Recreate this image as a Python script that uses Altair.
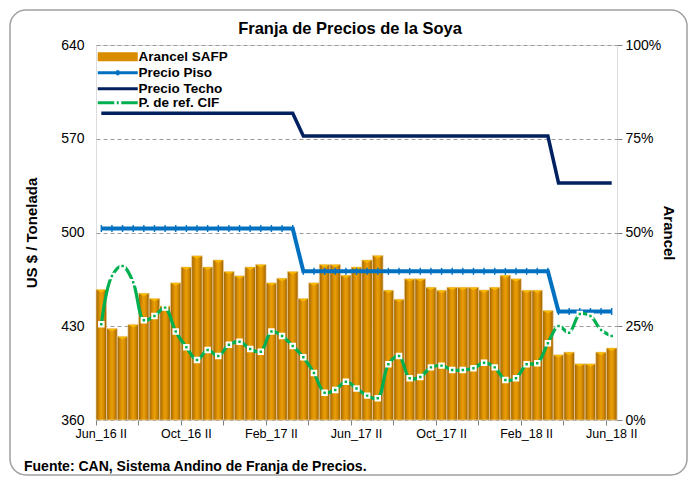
import json
import altair as alt
import pandas as pd

# ---------------- data ----------------
MONTHS = ["Jan", "Feb", "Mar", "Apr", "May", "Jun", "Jul", "Aug", "Sep", "Oct", "Nov", "Dec"]
_all = [f"{m}_{y} {h}" for y in ["16", "17", "18"] for m in MONTHS for h in ["I", "II"]]
CATS = _all[_all.index("Jun_16 II"): _all.index("Jun_18 II") + 1]

ARANCEL = [34.8, 24.4, 22.3, 25.5, 33.8, 32.4, 30.4, 36.6, 40.8, 43.8,
           40.8, 42.7, 39.6, 38.5, 40.8, 41.5, 36.6, 37.8, 39.6, 32.4,
           36.6, 41.5, 41.5, 38.6, 40.8, 42.7, 43.9, 34.6, 32.2, 37.7,
           37.7, 35.4, 34.6, 35.4, 35.4, 35.4, 34.7, 35.4, 38.6, 37.7,
           34.6, 34.6, 29.2, 17.4, 18.1, 15.0, 15.0, 18.1, 19.2]

TECHO = [589, 589, 589, 589, 589, 589, 589, 589, 589, 589,
         589, 589, 589, 589, 589, 589, 589, 589, 589, 572,
         572, 572, 572, 572, 572, 572, 572, 572, 572, 572,
         572, 572, 572, 572, 572, 572, 572, 572, 572, 572,
         572, 572, 572, 537, 537, 537, 537, 537, 537]

PISO = [503, 503, 503, 503, 503, 503, 503, 503, 503, 503,
        503, 503, 503, 503, 503, 503, 503, 503, 503, 471,
        471, 471, 471, 471, 471, 471, 471, 471, 471, 471,
        471, 471, 471, 471, 471, 471, 471, 471, 471, 471,
        471, 471, 471, 441, 441, 441, 441, 441, 441]

CIF = [431.5, 467.5, 475.0, 462.8, 434.5, 437.7, 443.9, 426.0, 414.3, 404.8,
       412.3, 407.8, 416.2, 418.5, 413.0, 411.0, 426.0, 422.7, 415.3, 406.8,
       395.1, 380.4, 382.4, 388.6, 383.6, 378.2, 376.2, 401.6, 407.8, 391.1,
       392.1, 399.3, 400.6, 397.3, 397.3, 398.6, 402.8, 399.3, 389.9, 391.1,
       401.6, 402.3, 417.3, 430.2, 425.2, 439.2, 437.7, 427.2, 422.7]

SERIES = ["Arancel SAFP", "Precio Piso", "Precio Techo", "P. de ref. CIF"]
COLORS = ["#D98C00", "#0070C0", "#002060", "#00B050"]
LEGEND_SHAPES = [
    "M-8,-1.2H8M-8,0H8M-8,1.2H8",
    "M-8,0H8M0,-1V1",
    "M-8,0H8",
    "M-8,0H-1.4M1.4,0H8M-0.4,0H0.4",
]

LEFT_TICKS = [360, 430, 500, 570, 640]
RIGHT_TICKS = [0, 0.25, 0.5, 0.75, 1.0]
TICK_CATS = CATS[::4]
LABEL_CATS = CATS[::8]

TITLE = "Franja de Precios de la Soya"
FOOTER = "Fuente: CAN, Sistema Andino de Franja de Precios."

FONT = "Liberation Sans, Arial, sans-serif"

# ---------------- frames ----------------
bars_df = pd.DataFrame({"cat": CATS, "arancel": [v / 100 for v in ARANCEL]})
lines_df = pd.concat([
    pd.DataFrame({"cat": CATS, "serie": SERIES[1], "valor": PISO}),
    pd.DataFrame({"cat": CATS, "serie": SERIES[2], "valor": TECHO}),
    pd.DataFrame({"cat": CATS, "serie": SERIES[3], "valor": CIF}),
], ignore_index=True)
legend_df = pd.DataFrame({"serie": SERIES})

xaxis = alt.Axis(
    values=TICK_CATS, bandPosition=0,
    labelExpr=f"indexof({json.dumps(LABEL_CATS)}, datum.value) >= 0 ? datum.label : ''",
    labelAngle=0, domain=False, tickColor="#808080", tickSize=5,
    labelPadding=2, labelFontSize=12.5, labelFont=FONT, labelColor="#000",
    title=None,
)
xenc = alt.X("cat:N", sort=CATS, scale=alt.Scale(paddingInner=0, paddingOuter=0), axis=xaxis)

yleft = alt.Y(
    "valor:Q",
    scale=alt.Scale(domain=[360, 640], nice=False, zero=False),
    axis=alt.Axis(
        orient="left", values=LEFT_TICKS, grid=True, gridDash=[4, 3],
        gridColor="#9A9A9A", ticks=False, domain=False, labelPadding=12,
        labelFontSize=14, labelFont=FONT, labelColor="#000",
        title="US $ / Tonelada", titleFontSize=15, titleFont=FONT,
        titleFontWeight="bold", titleColor="#000", titlePadding=21,
    ),
)

color_scale = alt.Scale(domain=SERIES, range=COLORS)
shape_scale = alt.Scale(domain=SERIES, range=LEGEND_SHAPES)


def mk_legend():
    return alt.Legend(
        orient="none", legendX=15, legendY=5, title=None, padding=0,
        symbolSize=25, symbolStrokeWidth=3, labelOffset=14, rowPadding=-2,
        labelFont=FONT, labelFontSize=13.5, labelFontWeight="bold", labelColor="#000",
        symbolFillColor="transparent", symbolOpacity=1,
    )


col = alt.Color("serie:N", scale=color_scale, legend=mk_legend())

# ---------------- bars ----------------
grad = alt.Gradient(
    gradient="linear", x1=0, x2=1, y1=0, y2=0,
    stops=[
        alt.GradientStop(offset=0, color="#9A5F00"),
        alt.GradientStop(offset=0.3, color="#D68C00"),
        alt.GradientStop(offset=0.5, color="#EA9E08"),
        alt.GradientStop(offset=0.7, color="#D68C00"),
        alt.GradientStop(offset=1, color="#9A5F00"),
    ],
)
yright = alt.Y(
    "arancel:Q",
    scale=alt.Scale(domain=[0, 1], nice=False),
    axis=alt.Axis(
        orient="right", values=RIGHT_TICKS, format=".0%", grid=False,
        domain=False, tickColor="#808080", tickSize=5, labelPadding=3,
        labelFontSize=14, labelFont=FONT, labelColor="#000",
        title="Arancel", titleAngle=90, titleFontSize=15, titleFont=FONT,
        titleFontWeight="bold", titleColor="#000", titlePadding=0,
    ),
)
bars = alt.Chart(bars_df).mark_bar(color=grad, stroke="#F0D9A8", strokeWidth=0.7).encode(
    x=xenc, y=yright
)
tops = alt.Chart(bars_df).mark_point(
    shape="M-1,0L1,0L0,0.55Z", filled=True, color="#F7B900", size=100, opacity=1, yOffset=0.3
).encode(x=xenc, y=yright)
bar_layer = alt.layer(bars, tops)

# ---------------- lines ----------------
base = alt.Chart(lines_df)

legend_helper = alt.Chart(legend_df).mark_point(filled=False, opacity=1, strokeWidth=3).encode(
    x=alt.value(-2000), y=alt.value(-2000),
    color=col,
    shape=alt.Shape("serie:N", scale=shape_scale, legend=mk_legend()),
)
techo = base.transform_filter(alt.datum.serie == SERIES[2]).mark_line(strokeWidth=3.5).encode(
    x=xenc, y=yleft, color=col)
piso = base.transform_filter(alt.datum.serie == SERIES[1]).mark_line(strokeWidth=4).encode(
    x=xenc, y=yleft, color=col)
piso_pts = base.transform_filter(alt.datum.serie == SERIES[1]).mark_point(
    shape="M0,-1V1", size=49, strokeWidth=1.4, opacity=1).encode(
    x=xenc, y=yleft, color=col)
cif = base.transform_filter(alt.datum.serie == SERIES[3]).mark_line(
    strokeWidth=3.2, interpolate="catmull-rom").encode(x=xenc, y=yleft, color=col)
cif_pts = base.transform_filter(alt.datum.serie == SERIES[3]).mark_point(
    shape="square", size=20, filled=True, fill="#00B050", stroke="white",
    strokeWidth=2, opacity=1).encode(x=xenc, y=yleft)

line_layer = alt.layer(legend_helper, techo, piso, piso_pts, cif, cif_pts)

# ---------------- decorations ----------------
one = pd.DataFrame({"t": [FOOTER], "title": [TITLE]})
frame = alt.Chart(one).mark_rect(
    fill="white", fillOpacity=0, stroke="#A0A0A0", strokeWidth=1.5, cornerRadius=16
).encode(x=alt.value(-86), x2=alt.value(591), y=alt.value(-35), y2=alt.value(430))
footer = alt.Chart(one).mark_text(
    align="left", baseline="alphabetic", font=FONT, fontSize=14, fontWeight="bold", color="#000"
).encode(x=alt.value(-72), y=alt.value(426), text="t:N")
title = alt.Chart(one).mark_text(
    align="center", baseline="alphabetic", font=FONT, fontSize=16.5, fontWeight="bold", color="#000"
).encode(x=alt.value(254), y=alt.value(-11), text="title:N")

chart = alt.layer(frame, bar_layer, line_layer, footer, title).resolve_scale(y="independent").properties(
    width=521, height=375,
    autosize=alt.AutoSizeParams(type="none"),
    padding={"left": 88, "top": 37, "right": 72, "bottom": 59},
).configure_view(stroke="#8C8C8C", strokeWidth=1).configure(background="white")

chart.save("out.html", embed_options={"renderer": "svg", "actions": False})
